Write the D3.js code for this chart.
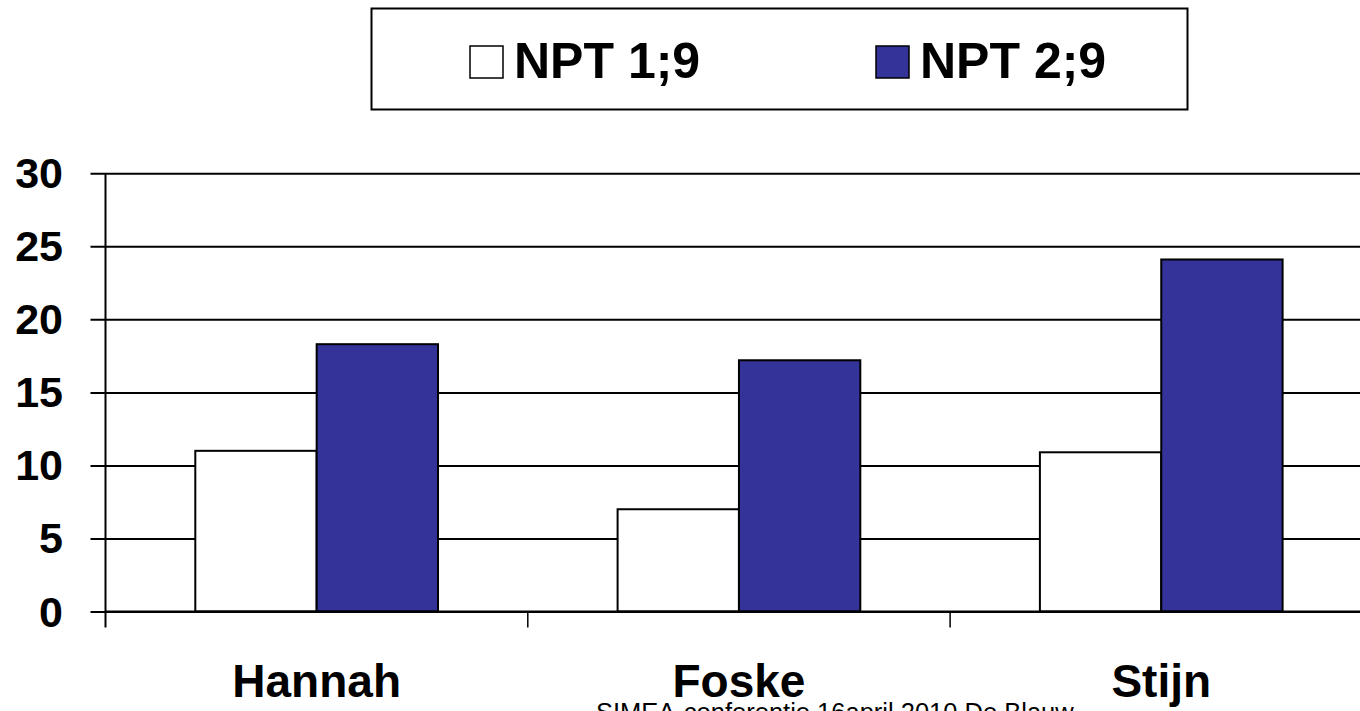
<!DOCTYPE html>
<html>
<head>
<meta charset="utf-8">
<script src="https://cdn.jsdelivr.net/npm/d3@7"></script>
<style>
  html, body { margin: 0; padding: 0; background: #fff; }
  svg { display: block; font-family: "Liberation Sans", Arial, sans-serif; }
</style>
</head>
<body>
<svg id="chart" width="1360" height="711"></svg>
<script>
// Children and series
const categories = ["Hannah", "Foske", "Stijn"];
const seriesNames = ["NPT 1;9", "NPT 2;9"];
const npt19 = [11.0, 7.0, 10.9];
const npt29 = [18.3, 17.2, 24.1];
const yTicks = [0, 5, 10, 15, 20, 25, 30];
const footer = "SIMEA-conferentie 16april 2010 De Blauw";

const colors = { "NPT 1;9": "#ffffff", "NPT 2;9": "#333399" };

const svg = d3.select("#chart");
svg.append("rect").attr("width", 1360).attr("height", 711).attr("fill", "#fff");

const plot = { left: 105.5, top: 173.3, bottom: 611.5, bandW: 422.3 };
plot.right = plot.left + plot.bandW * categories.length;

const x0 = d3.scaleBand()
  .domain(categories)
  .range([plot.left, plot.right])
  .paddingInner(0).paddingOuter(0);

const x1 = d3.scaleBand()
  .domain(seriesNames)
  .range([0, x0.bandwidth()])
  .paddingInner(0).paddingOuter(0.74);

const y = d3.scaleLinear().domain([0, 30]).range([plot.bottom, plot.top]);

// Horizontal gridlines with left tick stubs
const yAxis = d3.axisLeft(y)
  .tickValues(yTicks)
  .tickSize(-(plot.right - plot.left))
  .tickPadding(0)
  .tickFormat("");
const gy = svg.append("g").attr("transform", `translate(${plot.left},0)`).call(yAxis);
gy.select(".domain").remove();
gy.selectAll(".tick line").attr("stroke", "#000").attr("stroke-width", 2).attr("x1", -15);

// Tick labels
svg.append("g").selectAll("text")
  .data(yTicks).join("text")
  .attr("x", 63)
  .attr("y", d => y(d) + 15)
  .attr("text-anchor", "end")
  .attr("font-size", 43)
  .attr("font-weight", "bold")
  .text(d => d);

// Bars
const rows = categories.map((c, i) => ({ cat: c, values: [
  { s: seriesNames[0], v: npt19[i] },
  { s: seriesNames[1], v: npt29[i] }
]}));

const groups = svg.append("g").selectAll("g")
  .data(rows).join("g")
  .attr("transform", d => `translate(${x0(d.cat)},0)`);

groups.selectAll("rect")
  .data(d => d.values).join("rect")
  .attr("x", d => x1(d.s))
  .attr("y", d => y(d.v))
  .attr("width", x1.bandwidth())
  .attr("height", d => y(0) - y(d.v))
  .attr("fill", d => colors[d.s])
  .attr("stroke", "#000")
  .attr("stroke-width", 2);

// Baseline, vertical axis and category separators
const xAxis = d3.axisBottom(x0).tickSize(0).tickFormat("");
const gx = svg.append("g").attr("transform", `translate(0,${plot.bottom})`).call(xAxis);
gx.select(".domain").attr("stroke", "#000").attr("stroke-width", 2)
  .attr("d", `M${plot.left},0H${plot.right}`);

svg.append("line")
  .attr("x1", plot.left).attr("x2", plot.left)
  .attr("y1", plot.top).attr("y2", plot.bottom + 16)
  .attr("stroke", "#000").attr("stroke-width", 2);

svg.append("g").selectAll("line")
  .data(categories.slice(1)).join("line")
  .attr("x1", d => x0(d)).attr("x2", d => x0(d))
  .attr("y1", plot.bottom).attr("y2", plot.bottom + 16)
  .attr("stroke", "#000").attr("stroke-width", 1.5);

// Category labels
svg.append("g").selectAll("text")
  .data(categories).join("text")
  .attr("x", d => x0(d) + x0.bandwidth() / 2)
  .attr("y", 697)
  .attr("text-anchor", "middle")
  .attr("font-size", 46)
  .attr("font-weight", "bold")
  .text(d => d);

// Legend
const legend = svg.append("g");
legend.append("rect")
  .attr("x", 371.5).attr("y", 8.5).attr("width", 816).attr("height", 101)
  .attr("fill", "#fff").attr("stroke", "#000").attr("stroke-width", 2);

const legendX = [470, 876];
const items = legend.selectAll("g.item")
  .data(seriesNames).join("g").attr("class", "item")
  .attr("transform", (d, i) => `translate(${legendX[i]},0)`);
items.append("rect")
  .attr("x", 0).attr("y", 46).attr("width", 33).attr("height", 32)
  .attr("fill", d => colors[d]).attr("stroke", "#000").attr("stroke-width", 1.5);
items.append("text")
  .attr("x", 44).attr("y", 78)
  .attr("font-size", 50)
  .attr("font-weight", "bold")
  .text(d => d);

// Footer
svg.append("text")
  .attr("x", 596).attr("y", 721)
  .attr("font-size", 25.5)
  .text(footer);
</script>
</body>
</html>
